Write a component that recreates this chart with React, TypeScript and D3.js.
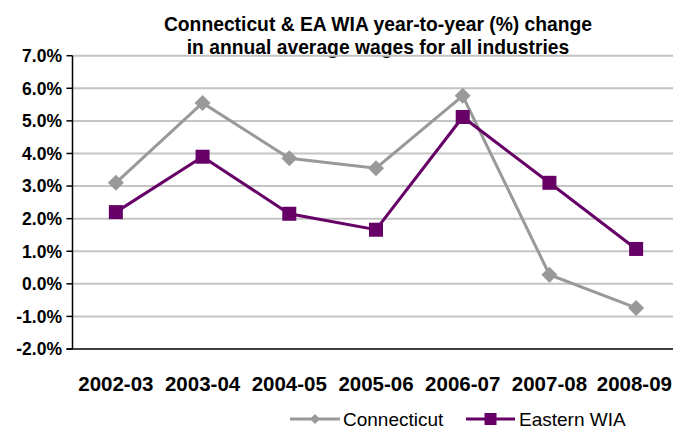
import React, { useEffect } from "react";
import * as d3 from "d3";

const categories = ["2002-03", "2003-04", "2004-05", "2005-06", "2006-07", "2007-08", "2008-09"];
const connecticut = [3.1, 5.55, 3.85, 3.55, 5.77, 0.28, -0.74];
const easternWIA = [2.2, 3.9, 2.15, 1.66, 5.12, 3.1, 1.07];
const yTicks = [-2, -1, 0, 1, 2, 3, 4, 5, 6, 7];
const titleLines = ["Connecticut & EA WIA year-to-year (%) change", "in annual average wages for all industries"];

const W = 673, H = 430;
const FONT = "'Liberation Sans', Arial, Helvetica, sans-serif";
const GRAY = "#999999";
const PURPLE = "#660066";

export default function App() {
  useEffect(() => {
    document.body.style.margin = "0";
  }, []);

  const left = 72.5, right = 679.5, top = 55.7, bottom = 349;
  const x = d3.scaleBand<string>().domain(categories).range([left, right]);
  const y = d3.scaleLinear().domain([-2, 7]).range([bottom, top]);
  const cx = (c: string) => (x(c) as number) + x.bandwidth() / 2;

  const line = d3.line<number>().x((_, i) => cx(categories[i])).y((d) => y(d));

  const diamond = (px: number, py: number, r: number) =>
    `M${px},${py - r}L${px + r},${py}L${px},${py + r}L${px - r},${py}Z`;

  const legY = 419;

  return (
    <svg width={W} height={H} style={{ display: "block" }} fontFamily={FONT}>
      <rect width={W} height={H} fill="#fff" />
      {titleLines.map((t, i) => (
        <text key={i} x={378} y={31 + i * 23} textAnchor="middle" fontWeight="bold" fontSize={19.3}>
          {t}
        </text>
      ))}
      {yTicks.map((t) => (
        <g key={t}>
          {t !== -2 && (
            <line x1={left} x2={W} y1={y(t)} y2={y(t)} stroke="#c4c4c4" strokeWidth={2} />
          )}
          <line x1={left - 6} x2={left} y1={y(t)} y2={y(t)} stroke="#000" strokeWidth={1.5} />
          <text x={62} y={y(t)} dy="0.36em" textAnchor="end" fontWeight="bold" fontSize={17.5}>
            {t.toFixed(1) + "%"}
          </text>
        </g>
      ))}
      <line x1={left} x2={left} y1={top} y2={bottom} stroke="#000" strokeWidth={1.5} />
      <line x1={left - 6} x2={W} y1={bottom} y2={bottom} stroke="#000" strokeWidth={1.5} />
      {categories.map((c, i) => {
        const last = i === categories.length - 1;
        return (
          <text
            key={c}
            x={last ? W - 1 : cx(c)}
            y={391}
            textAnchor={last ? "end" : "middle"}
            fontWeight="bold"
            fontSize={20.5}
          >
            {c}
          </text>
        );
      })}
      <path d={line(connecticut) || ""} fill="none" stroke={GRAY} strokeWidth={3} />
      {connecticut.map((v, i) => (
        <path key={i} d={diamond(cx(categories[i]), y(v), 8)} fill={GRAY} />
      ))}
      <path d={line(easternWIA) || ""} fill="none" stroke={PURPLE} strokeWidth={3} />
      {easternWIA.map((v, i) => (
        <rect key={i} x={cx(categories[i]) - 7} y={y(v) - 7} width={14} height={14} fill={PURPLE} />
      ))}
      <g>
        <line x1={290} x2={340} y1={legY} y2={legY} stroke={GRAY} strokeWidth={3} />
        <path d={diamond(315, legY, 5)} fill={GRAY} />
        <text x={343} y={legY} dy="0.35em" fontSize={19}>Connecticut</text>
        <line x1={466} x2={515} y1={legY} y2={legY} stroke={PURPLE} strokeWidth={3} />
        <rect x={484.5} y={legY - 6} width={12} height={12} fill={PURPLE} />
        <text x={519} y={legY} dy="0.35em" fontSize={19}>Eastern WIA</text>
      </g>
    </svg>
  );
}
